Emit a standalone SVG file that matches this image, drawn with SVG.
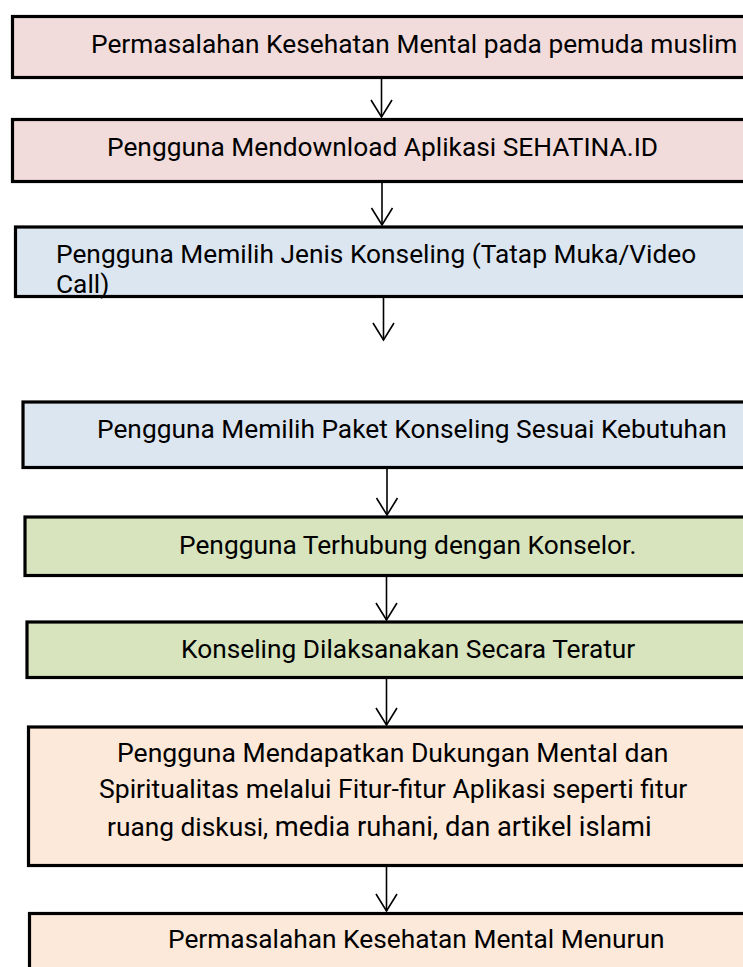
<svg xmlns="http://www.w3.org/2000/svg" width="743" height="967" viewBox="0 0 743 967">
<defs>
<style>
.box{stroke:#000;stroke-width:3.2}
.pink{fill:#f2dcdb}.blue{fill:#dce6f1}.green{fill:#d7e4bd}.peach{fill:#fde9d9}
text{font-family:Roboto,"Liberation Sans",sans-serif;font-size:26.3px;fill:#000}
.big{font-size:26.55px}
.conn line,.conn polyline{stroke:#000;stroke-width:1.6;fill:none}
</style>
</defs>
<rect width="743" height="967" fill="#fff"/>
<g id="n1"><rect class="box pink" x="12.5" y="16.5" width="760" height="61"/><text x="91" y="53">Permasalahan Kesehatan Mental pada pemuda muslim</text></g>
<g id="n2"><rect class="box pink" x="12.5" y="119.5" width="760" height="62"/><text x="107" y="156">Pengguna Mendownload Aplikasi SEHATINA.ID</text></g>
<g id="n3"><rect class="box blue" x="15.5" y="227" width="760" height="69.5"/><text x="56" y="263">Pengguna Memilih Jenis Konseling (Tatap Muka/Video</text><text x="56" y="293">Call)</text></g>
<g id="n4"><rect class="box blue" x="23" y="402" width="760" height="65.5"/><text x="97" y="438">Pengguna Memilih Paket Konseling Sesuai Kebutuhan</text></g>
<g id="n5"><rect class="box green" x="25" y="517" width="760" height="58.5"/><text x="179" y="554">Pengguna Terhubung dengan Konselor.</text></g>
<g id="n6"><rect class="box green" x="27" y="622" width="760" height="55.5"/><text x="181" y="658">Konseling Dilaksanakan Secara Teratur</text></g>
<g id="n7"><rect class="box peach" x="28.5" y="727" width="760" height="138.5"/><text class="big" x="117" y="762">Pengguna Mendapatkan Dukungan Mental dan</text><text class="big" x="99" y="798">Spiritualitas melalui Fitur-fitur Aplikasi seperti fitur</text><text x="107" y="836">ruang diskusi, <tspan font-size="27.3">media ruhani, dan artikel islami</tspan></text></g>
<g id="n8"><rect class="box peach" x="29.5" y="913.5" width="760" height="80"/><text x="168" y="948">Permasalahan Kesehatan Mental Menurun</text></g>
<g class="conn" id="connectors">
<line x1="381.5" y1="79" x2="381.5" y2="117"/><polyline points="371,100 381.5,117 392,100"/>
<line x1="382" y1="183" x2="382" y2="225"/><polyline points="371.5,208 382,225 392.5,208"/>
<line x1="383.5" y1="298" x2="383.5" y2="340"/><polyline points="373,323 383.5,340 394,323"/>
<line x1="387" y1="469" x2="387" y2="515"/><polyline points="376.5,498 387,515 397.5,498"/>
<line x1="386.5" y1="577" x2="386.5" y2="620"/><polyline points="376,603 386.5,620 397,603"/>
<line x1="386.5" y1="679" x2="386.5" y2="725"/><polyline points="376,708 386.5,725 397,708"/>
<line x1="386.5" y1="867" x2="386.5" y2="911"/><polyline points="376,894 386.5,911 397,894"/>
</g>
</svg>
